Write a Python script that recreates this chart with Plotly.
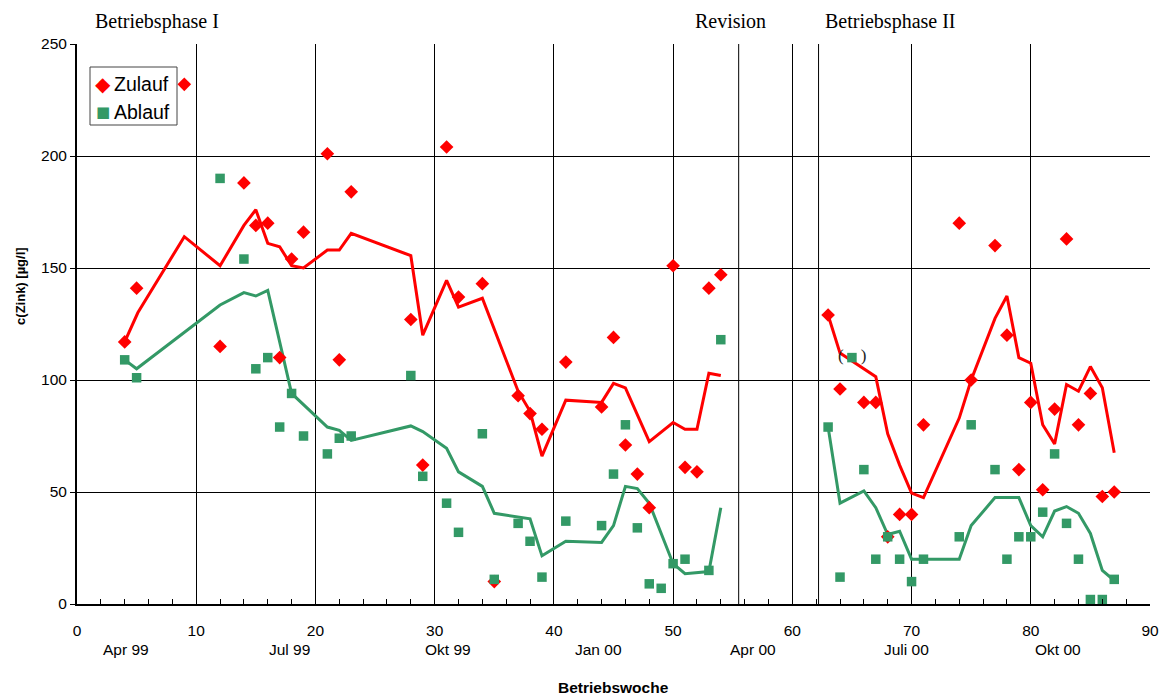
import plotly.graph_objects as go

# ---------------- data ----------------
zu_week = [4, 5, 9, 12, 14, 15, 16, 17, 18, 19, 21, 22, 23, 28, 29, 31, 32, 34, 35, 37, 38, 39, 41,
           44, 45, 46, 47, 48, 50, 51, 52, 53, 54,
           63, 64, 66, 67, 68, 69, 70, 71, 74, 75, 77, 78, 79, 80, 81, 82, 83, 84, 85, 86, 87]
zu_val = [117, 141, 232, 115, 188, 169, 170, 110, 154, 166, 201, 109, 184, 127, 62, 204, 137, 143, 10, 93, 85, 78, 108,
          88, 119, 71, 58, 43, 151, 61, 59, 141, 147,
          129, 96, 90, 90, 30, 40, 40, 80, 170, 100, 160, 120, 60, 90, 51, 87, 163, 80, 94, 48, 50]

ab_week = [4, 5, 12, 14, 15, 16, 17, 18, 19, 21, 22, 23, 28, 29, 31, 32, 34, 35, 37, 38, 39, 41,
           44, 45, 46, 47, 48, 49, 50, 51, 53, 54,
           63, 64, 65, 66, 67, 68, 69, 70, 71, 74, 75, 77, 78, 79, 80, 81, 82, 83, 84, 85, 86, 87]
ab_val = [109, 101, 190, 154, 105, 110, 79, 94, 75, 67, 74, 75, 102, 57, 45, 32, 76, 11, 36, 28, 12, 37,
          35, 58, 80, 34, 9, 7, 18, 20, 15, 118,
          79, 12, 110, 60, 20, 30, 20, 10, 20, 30, 80, 60, 20, 30, 30, 41, 67, 36, 20, 2, 2, 11]

# moving-average lines (None separates the two operating phases)
zu_line_week = [4, 5.1, 9, 12, 14, 15, 16, 17, 18, 19, 21, 22, 23, 28, 29, 31, 32, 34, 37, 38, 39, 41,
                44, 45, 46, 48, 50, 51, 52, 53, 54, None,
                63, 64, 67, 68, 69, 70, 71, 74, 75, 77, 78, 79, 80, 81, 82, 83, 84, 85, 86, 87]
zu_line_val = [117, 130, 164, 151, 169, 176, 161, 159.5, 151, 150, 158, 158, 165.5, 155.5, 120, 144.5, 132.5, 136.5, 95, 86, 66, 91,
               90, 98.5, 96.5, 72.5, 81, 78, 78, 103, 102, None,
               129, 112, 101.5, 76, 62, 49.5, 47.5, 83, 100, 127.5, 137.5, 110, 107.5, 80, 71.5, 98, 95, 106, 96.5, 67.5]

ab_line_week = [4, 5, 12, 14, 15, 16, 18, 19, 21, 22, 23, 28, 29, 31, 32, 34, 35, 38, 39, 41,
                44, 45, 46, 47, 48, 50, 51, 53, 54, None,
                63, 64, 66, 67, 68, 69, 70, 74, 75, 77, 79, 80, 81, 82, 83, 84, 85, 86, 87]
ab_line_val = [109, 105, 133.5, 139, 137.5, 140, 94, 89, 79, 77.5, 73, 79.5, 77, 69.5, 59, 52.5, 40.5, 38, 21.5, 28,
               27.5, 35, 52.5, 51.5, 45, 18, 13.5, 14.5, 43, None,
               79, 45, 50.5, 43, 31, 32.5, 20, 20, 35, 47.5, 47.5, 35, 30, 41.5, 43.5, 40.5, 31.5, 15, 10.5]

x_ticks = [0, 10, 20, 30, 40, 50, 60, 70, 80, 90]
month_labels = ["Apr 99", "Jul 99", "Okt 99", "Jan 00", "Apr 00", "Juli 00", "Okt 00"]
month_pos = [4.1, 17.8, 31.1, 43.7, 56.7, 69.6, 82.3]
phase_lines = [55.5, 62.2]
phase_labels = ["Betriebsphase I", "Revision", "Betriebsphase II"]
phase_label_pos = [1.35, 51.7, 62.6]
legend_names = ["Zulauf", "Ablauf"]

RED = "#FF0000"
GREEN = "#339966"
SANS = "Liberation Sans, Arial"
SERIF = "Liberation Serif, Times New Roman"

# plot-area geometry in pixels (used for placing legend box/labels)
PL, PT, PW, PH = 77, 44, 1073, 560


def px_to_paper(px, py):
    return (px - PL) / PW, (PT + PH - py) / PH


fig = go.Figure()
fig.add_trace(go.Scatter(x=zu_line_week, y=zu_line_val, mode="lines",
                         line=dict(color=RED, width=3), showlegend=False, connectgaps=False))
fig.add_trace(go.Scatter(x=ab_line_week, y=ab_line_val, mode="lines",
                         line=dict(color=GREEN, width=3), showlegend=False, connectgaps=False))
fig.add_trace(go.Scatter(x=zu_week, y=zu_val, mode="markers", name=legend_names[0], showlegend=False,
                         marker=dict(symbol="diamond", color=RED, size=10.5)))
fig.add_trace(go.Scatter(x=ab_week, y=ab_val, mode="markers", name=legend_names[1], showlegend=False,
                         marker=dict(symbol="square", color=GREEN, size=9.5)))

for p in phase_lines:
    fig.add_shape(type="line", xref="x", yref="y", x0=p, x1=p, y0=0, y1=250,
                  line=dict(color="black", width=1), layer="below")

annotations = []
for lab, pos in zip(month_labels, month_pos):
    annotations.append(dict(x=pos, y=0, xref="x", yref="y", yshift=-45, text=lab, showarrow=False,
                            font=dict(family=SANS, size=15.5, color="black")))
for lab, pos in zip(phase_labels, phase_label_pos):
    annotations.append(dict(x=pos, y=250, xref="x", yref="y", yshift=23, xanchor="left", yanchor="middle",
                            text=lab, showarrow=False,
                            font=dict(family=SERIF, size=20, color="black")))
annotations.append(dict(x=0.5, y=0, xref="paper", yref="y", yshift=-83, text="<b>Betriebswoche</b>",
                        showarrow=False, font=dict(family=SANS, size=15.5, color="black")))
annotations.append(dict(x=0, y=142, xref="paper", yref="y", xshift=-56, xanchor="center", yanchor="middle",
                        text="<b>c(Zink) [µg/l]</b>", textangle=-90, showarrow=False,
                        font=dict(family=SANS, size=13, color="black")))
annotations.append(dict(x=65, y=111, xref="x", yref="y", text="(&nbsp;&nbsp;&nbsp;&nbsp;)", showarrow=False,
                        font=dict(family=SERIF, size=17, color="#222222")))

# legend drawn as a framed box with symbol glyphs and labels
bx0, by1 = px_to_paper(90, 67)
bx1, by0 = px_to_paper(177, 125)
fig.add_shape(type="rect", xref="paper", yref="paper", x0=bx0, x1=bx1, y0=by0, y1=by1,
              line=dict(color="#444444", width=1), fillcolor="white", layer="above")
for name, glyph, color, gsize, cy in [(legend_names[0], "◆", RED, 20, 84), (legend_names[1], "■", GREEN, 15, 112)]:
    gx, gy = px_to_paper(102.5, cy)
    tx, ty = px_to_paper(112, cy)
    annotations.append(dict(x=gx, y=gy, xref="paper", yref="paper", text=glyph, showarrow=False,
                            xanchor="center", yanchor="middle",
                            font=dict(family="DejaVu Sans", size=gsize, color=color)))
    annotations.append(dict(x=tx, y=ty, xref="paper", yref="paper", text=name, showarrow=False,
                            xanchor="left", yanchor="middle",
                            font=dict(family=SANS, size=19.5, color="black")))

fig.update_layout(
    width=1161, height=695,
    margin=dict(l=77, r=11, t=44, b=91, autoexpand=False),
    paper_bgcolor="white", plot_bgcolor="white",
    font=dict(family=SANS, size=15.5, color="black"),
    hovermode=False,
    xaxis=dict(range=[0, 90], tickvals=x_ticks, showgrid=True, gridcolor="black", gridwidth=1,
               showline=True, linecolor="black", linewidth=2, mirror=False, zeroline=False,
               automargin=False, ticklabeloverflow="allow",
               ticks="inside", ticklen=8, tickcolor="black", ticklabelstandoff=11,
               minor=dict(dtick=2, ticks="inside", ticklen=5, tickcolor="black", showgrid=False),
               tickfont=dict(size=15.5)),
    yaxis=dict(range=[0, 250], dtick=50, showgrid=True, gridcolor="black", gridwidth=1,
               showline=True, linecolor="black", linewidth=2, zeroline=False, automargin=False,
               ticks="outside", ticklen=5, tickcolor="black", tickfont=dict(size=15.5)),
    showlegend=False,
    annotations=annotations,
)

# remove the default page margin so the 1161x695 figure fills the window exactly
fig.write_html("out.html", config={"displayModeBar": False, "staticPlot": True},
               post_script="document.body.style.margin='0';document.body.style.overflow='hidden';")
